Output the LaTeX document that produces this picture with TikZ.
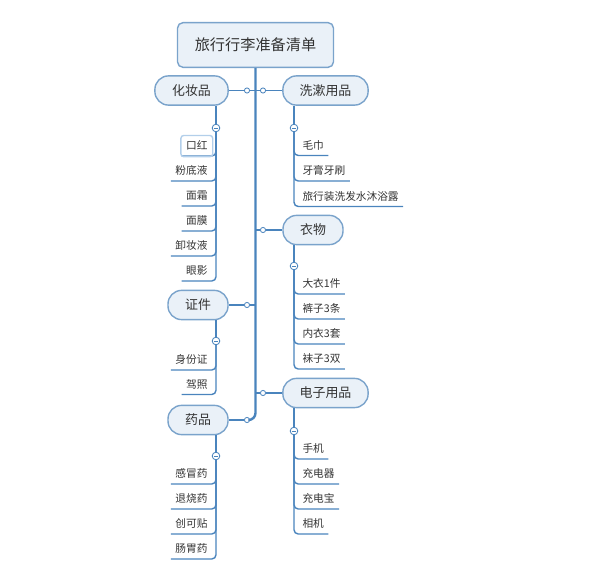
\documentclass[tikz,border=0pt]{standalone}
\usepackage{fontspec}
\setmainfont{Noto Sans CJK SC}
\usetikzlibrary{positioning}
\definecolor{mapline}{HTML}{4A84BD}
\definecolor{mapfill}{HTML}{EAF1F8}
\definecolor{mapedge}{HTML}{7AA3CB}
\definecolor{maptext}{HTML}{333333}
\definecolor{mapsel}{HTML}{B3CFEA}

\begin{document}
\begin{tikzpicture}[x=0.025cm,y=-0.025cm,
	root/.style={draw=mapedge,fill=mapfill,line width=1pt,rounded corners=4pt,minimum width=3.9cm,minimum height=1.12cm,font=\fontsize{10.8}{13}\selectfont,text=maptext},
	topic/.style={draw=mapedge,fill=mapfill,line width=1pt,rounded corners=0.34cm,minimum height=0.73cm,font=\fontsize{9.2}{11}\selectfont,text=maptext},
	leaf/.style={inner xsep=3pt,inner ysep=2.6pt,text height=6pt,text depth=1.5pt,font=\fontsize{7.6}{9}\selectfont,text=maptext},
	trunk/.style={draw=mapline,line width=1.7pt},
	branch/.style={draw=mapline,line width=1pt},
	leafline/.style={draw=mapline,line width=1pt,rounded corners=3pt},
	link/.style={circle,draw=mapline,fill=white,line width=0.6pt,inner sep=0pt,minimum size=0.13cm},
	fold/.style={circle,draw=mapline,fill=white,line width=0.6pt,inner sep=0pt,minimum size=0.19cm,
		path picture={\draw[mapline,line width=0.7pt] ([xshift=-1.6pt]path picture bounding box.center) -- ([xshift=1.6pt]path picture bounding box.center);}},
	selbox/.style={draw=mapsel,line width=1pt,rounded corners=2pt}]

	\useasboundingbox (0,0) rectangle (600,577);

	\node[root] (root) at (255.5,45) {旅行行李准备清单};

	\node[topic,minimum width=1.83cm] (kz) at (191.5,90.5) {化妆品};
	\node[topic,minimum width=2.13cm] (xs) at (325.5,90.5) {洗漱用品};
	\node[topic,minimum width=1.5cm] (yw) at (313,230) {衣物};
	\node[topic,minimum width=1.5cm] (zj) at (198,305) {证件};
	\node[topic,minimum width=2.13cm] (dz) at (325.5,393) {电子用品};
	\node[topic,minimum width=1.5cm] (yp) at (198,420) {药品};

	\node[link] (lkz) at (247,90.5) {};
	\node[link] (lxs) at (263,90.5) {};
	\node[link] (lyw) at (263,230) {};
	\node[link] (lzj) at (247,305) {};
	\node[link] (ldz) at (263,393) {};
	\node[link] (lyp) at (247,420) {};

	\draw[trunk,rounded corners=5pt] (root.south) |- (lyp);
	\foreach \b in {kz,xs,yw,zj,dz}
		\draw[branch] (root.south |- l\b) -- (l\b) -- (\b);
	\draw[branch] (lyp) -- (yp);

	\node[fold] (fkz) at (216,128) {};
	\node[fold] (fxs) at (294,128) {};
	\node[fold] (fyw) at (294,266) {};
	\node[fold] (fzj) at (216,341) {};
	\node[fold] (fdz) at (294,431) {};
	\node[fold] (fyp) at (216,456) {};
	\foreach \b in {kz,xs,yw,zj,dz,yp}
		\draw[branch] (\b.south -| f\b) -- (f\b);

	\foreach \t [count=\i] in {口红,粉底液,面霜,面膜,卸妆液,眼影}{
		\node[leaf,anchor=south east] (kz\i) at (212,131+25*\i) {\t};
		\draw[leafline] (fkz) |- (kz\i.south west);
	}
	\draw[selbox] ([xshift=-0.5pt,yshift=1.5pt]kz1.north west) rectangle ([xshift=0.5pt,yshift=-0.5pt]kz1.south east);

	\foreach \t [count=\i] in {毛巾,牙膏牙刷,旅行装洗发水沐浴露}{
		\node[leaf,anchor=south west] (xs\i) at (298,130+25.5*\i) {\t};
		\draw[leafline] (fxs) |- (xs\i.south east);
	}
	\foreach \t [count=\i] in {大衣1件,裤子3条,内衣3套,袜子3双}{
		\node[leaf,anchor=south west] (yw\i) at (298,269+25*\i) {\t};
		\draw[leafline] (fyw) |- (yw\i.south east);
	}
	\foreach \t [count=\i] in {身份证,驾照}{
		\node[leaf,anchor=south east] (zj\i) at (212,345.5+24.5*\i) {\t};
		\draw[leafline] (fzj) |- (zj\i.south west);
	}
	\foreach \t [count=\i] in {手机,充电器,充电宝,相机}{
		\node[leaf,anchor=south west] (dz\i) at (298,434+25*\i) {\t};
		\draw[leafline] (fdz) |- (dz\i.south east);
	}
	\foreach \t [count=\i] in {感冒药,退烧药,创可贴,肠胃药}{
		\node[leaf,anchor=south east] (yp\i) at (212,459+25*\i) {\t};
		\draw[leafline] (fyp) |- (yp\i.south west);
	}
\end{tikzpicture}
\end{document}
